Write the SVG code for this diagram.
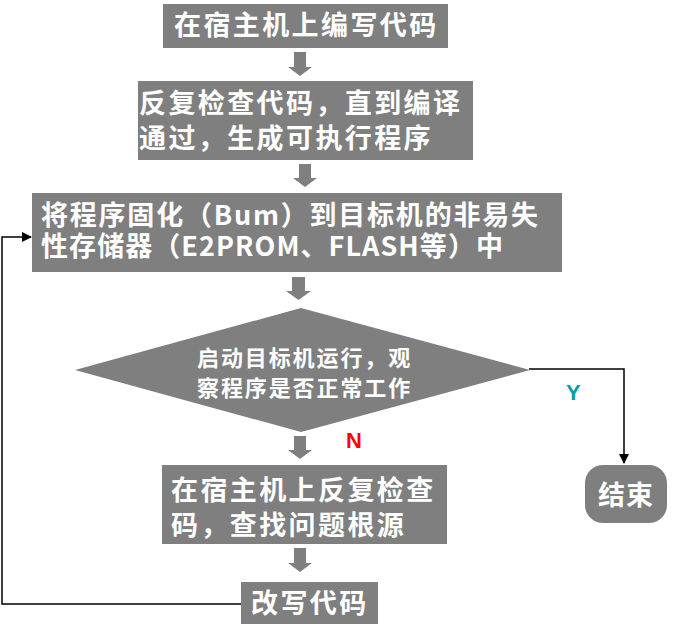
<svg xmlns="http://www.w3.org/2000/svg" width="675" height="638" viewBox="0 0 675 638">
<style>
.box{fill:#7f7f7f}
.t{fill:#ffffff;font-family:"Noto Sans CJK SC","Microsoft YaHei",sans-serif;font-weight:bold;font-size:27px;letter-spacing:2.4px}
.td{fill:#ffffff;font-family:"Noto Sans CJK SC",sans-serif;font-weight:bold;font-size:22px;letter-spacing:1.9px}
.blk{fill:#7f7f7f}
.ln{fill:none;stroke:#000000;stroke-width:1.5}
.lbl{font-family:"Liberation Sans",Arial,sans-serif;font-weight:bold;font-size:22px}
</style>
<defs>
<marker id="ah" markerWidth="10" markerHeight="10" refX="9" refY="5" orient="auto" markerUnits="userSpaceOnUse">
<path d="M0,0 L10,5 L0,10 Z" fill="#000000"/>
</marker>
</defs>
<g id="connectors">
<path class="blk" d="M294,52 H306 V67 H312 L300,76 L288,67 H294 Z"/>
<path class="blk" d="M299,164 H311 V178 H317 L305,187 L293,178 H299 Z"/>
<path class="blk" d="M292,277 H305 V291 H311 L298.5,300 L286,291 H292 Z"/>
<path class="blk" d="M294,436 H306 V450 H312 L300,459 L288,450 H294 Z"/>
<path class="blk" d="M294,548 H306 V563 H312 L300,572 L288,563 H294 Z"/>
<path class="ln" d="M529,369 H624 V463" marker-end="url(#ah)"/>
<path class="ln" d="M241,604 H2 V237 H31" marker-end="url(#ah)"/>
<text class="lbl" x="566" y="400" fill="#00a0a0">Y</text>
<text class="lbl" x="346" y="448" fill="#ff0000">N</text>
</g>
<g id="n1">
<rect class="box" x="163" y="4" width="285" height="44"/>
<text class="t" x="174" y="35">在宿主机上编写代码</text>
</g>
<g id="n2">
<rect class="box" x="138" y="81" width="335" height="79"/>
<text class="t" x="139" y="113">反复检查代码，直到编译</text>
<text class="t" x="139" y="148">通过，生成可执行程序</text>
</g>
<g id="n3">
<rect class="box" x="32" y="193" width="530" height="79"/>
<text class="t" x="41" y="225" textLength="497" lengthAdjust="spacing" style="letter-spacing:0">将程序固化（Bum）到目标机的非易失</text>
<text class="t" x="41" y="256" textLength="462" lengthAdjust="spacing" style="letter-spacing:0">性存储器（E2PROM、FLASH等）中</text>
</g>
<g id="n4">
<path class="box" d="M75,370 L301,308 L530,370 L301,432 Z"/>
<text class="td" x="197" y="366">启动目标机运行，观</text>
<text class="td" x="197" y="396">察程序是否正常工作</text>
</g>
<g id="n5">
<rect class="box" x="585" y="465" width="82" height="58" rx="18" ry="18"/>
<text class="t" x="626" y="505" text-anchor="middle" style="letter-spacing:1px">结束</text>
</g>
<g id="n6">
<rect class="box" x="162" y="465" width="285" height="79"/>
<text class="t" x="171" y="500">在宿主机上反复检查</text>
<text class="t" x="171" y="535">码，查找问题根源</text>
</g>
<g id="n7">
<rect class="box" x="241" y="582" width="137" height="42"/>
<text class="t" x="251" y="613">改写代码</text>
</g>
</svg>
